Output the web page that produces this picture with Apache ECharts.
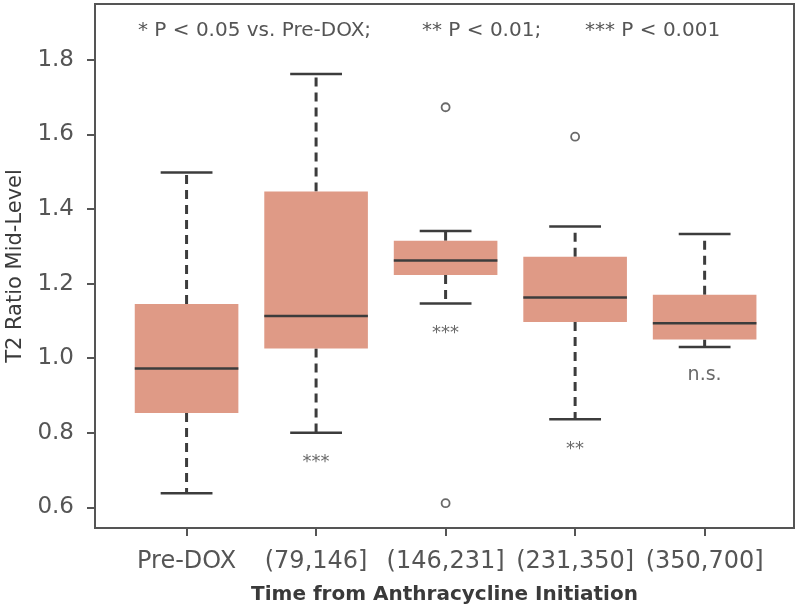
<!DOCTYPE html>
<html><head><meta charset="utf-8">
<script src="https://cdn.jsdelivr.net/npm/echarts@6/dist/echarts.min.js"></script>
<style>html,body{margin:0;padding:0;background:#fff}#c{width:800px;height:611px}</style>
</head><body><div id="c"></div>
<script>
const categories = ['Pre-DOX', '(79,146]', '(146,231]', '(231,350]', '(350,700]'];
const lowerWhisker = [0.638, 0.800, 1.147, 0.836, 1.030];
const q1 = [0.853, 1.026, 1.223, 1.097, 1.050];
const median = [0.972, 1.113, 1.262, 1.163, 1.094];
const q3 = [1.145, 1.447, 1.315, 1.272, 1.170];
const upperWhisker = [1.498, 1.762, 1.341, 1.353, 1.333];
const outlierGroup = [3, 3, 4];
const outlierValue = [1.673, 0.611, 1.594];
const sigLabels = ['', '***', '***', '**', 'n.s.'];
const yTicks = [0.6, 0.8, 1.0, 1.2, 1.4, 1.6, 1.8];
const pNotes = ['* P < 0.05 vs. Pre-DOX;', '** P < 0.01;', '*** P < 0.001'];

const FONT = '"DejaVu Sans", sans-serif';
const LINE = '#3c3c3c';
const BOX = '#DF9A86';

const boxData = categories.map((c, i) => [i + 1, lowerWhisker[i], q1[i], median[i], q3[i], upperWhisker[i]]);
const outlierData = outlierGroup.map((g, i) => [g, outlierValue[i]]);

function renderBox(params, api) {
  const x = api.value(0);
  const lw = api.value(1), a = api.value(2), m = api.value(3), b = api.value(4), uw = api.value(5);
  const px = v => api.coord([v, 1])[0];
  const py = v => api.coord([x, v])[1];
  const left = px(x - 0.4), right = px(x + 0.4), cx = px(x);
  const capL = px(x - 0.2), capR = px(x + 0.2);
  const label = sigLabels[params.dataIndex];
  const children = [
    {type: 'line', shape: {x1: cx, y1: py(b), x2: cx, y2: py(uw)}, style: {stroke: LINE, lineWidth: 3, lineDash: [9, 6]}},
    {type: 'line', shape: {x1: cx, y1: py(a), x2: cx, y2: py(lw)}, style: {stroke: LINE, lineWidth: 3, lineDash: [9, 6]}},
    {type: 'line', shape: {x1: capL, y1: py(uw), x2: capR, y2: py(uw)}, style: {stroke: LINE, lineWidth: 2.5}},
    {type: 'line', shape: {x1: capL, y1: py(lw), x2: capR, y2: py(lw)}, style: {stroke: LINE, lineWidth: 2.5}},
    {type: 'rect', shape: {x: left, y: py(b), width: right - left, height: py(a) - py(b)}, style: {fill: BOX}},
    {type: 'line', shape: {x1: left, y1: py(m), x2: right, y2: py(m)}, style: {stroke: LINE, lineWidth: 2.5}}
  ];
  if (label) {
    const isStar = label.charAt(0) === '*';
    children.push({type: 'text', style: {
      text: label, x: cx, y: py(lw) + (isStar ? 30 : 28), align: 'center', verticalAlign: 'middle',
      font: (isStar ? '18px ' : '19px ') + FONT, fill: '#6a6a6a'
    }});
  }
  return {type: 'group', children};
}

const chart = echarts.init(document.getElementById('c'), null, {renderer: 'canvas'});
chart.setOption({
  animation: false,
  backgroundColor: '#fff',
  grid: {left: 95, right: 6, top: 4, bottom: 83, show: true, borderColor: '#555', borderWidth: 2,
         backgroundColor: 'transparent', containLabel: false, outerBoundsMode: 'none'},
  xAxis: {
    type: 'value', min: 0.293, max: 5.69,
    name: 'Time from Anthracycline Initiation', nameLocation: 'middle', nameGap: 57,
    nameTextStyle: {fontFamily: FONT, fontSize: 20, fontWeight: 'bold', color: '#3a3a3a'},
    splitLine: {show: false},
    axisLine: {show: true, lineStyle: {color: '#555', width: 2}},
    axisTick: {show: true, length: 8, customValues: [1, 2, 3, 4, 5], lineStyle: {color: '#555', width: 2}},
    axisLabel: {customValues: [1, 2, 3, 4, 5], formatter: v => categories[Math.round(v) - 1], fontFamily: FONT, fontSize: 24, color: '#555', margin: 22}
  },
  yAxis: {
    type: 'value', min: 0.5445, max: 1.950,
    name: 'T2 Ratio Mid-Level', nameLocation: 'middle', nameGap: 63, nameRotate: 90,
    nameTextStyle: {fontFamily: FONT, fontSize: 21, color: '#3a3a3a'},
    splitLine: {show: false},
    axisLine: {show: true, lineStyle: {color: '#555', width: 2}},
    axisTick: {show: true, length: 8, customValues: yTicks, lineStyle: {color: '#555', width: 2}},
    axisLabel: {customValues: yTicks, formatter: v => v.toFixed(1), fontFamily: FONT, fontSize: 23, color: '#555', margin: 21}
  },
  graphic: [
    {type: 'text', left: 138, top: 21, style: {text: pNotes[0], font: '20px ' + FONT, fill: '#555'}},
    {type: 'text', left: 422, top: 21, style: {text: pNotes[1], font: '20px ' + FONT, fill: '#555'}},
    {type: 'text', left: 585, top: 21, style: {text: pNotes[2], font: '20px ' + FONT, fill: '#555'}}
  ],
  series: [
    {type: 'custom', renderItem: renderBox, data: boxData, encode: {x: 0, y: [1, 2, 3, 4, 5]}, clip: false, z: 3},
    {type: 'scatter', data: outlierData, symbol: 'circle', symbolSize: 8,
     itemStyle: {color: '#fff', borderColor: '#444', borderWidth: 1.8}, z: 4}
  ]
});
</script>
</body></html>
